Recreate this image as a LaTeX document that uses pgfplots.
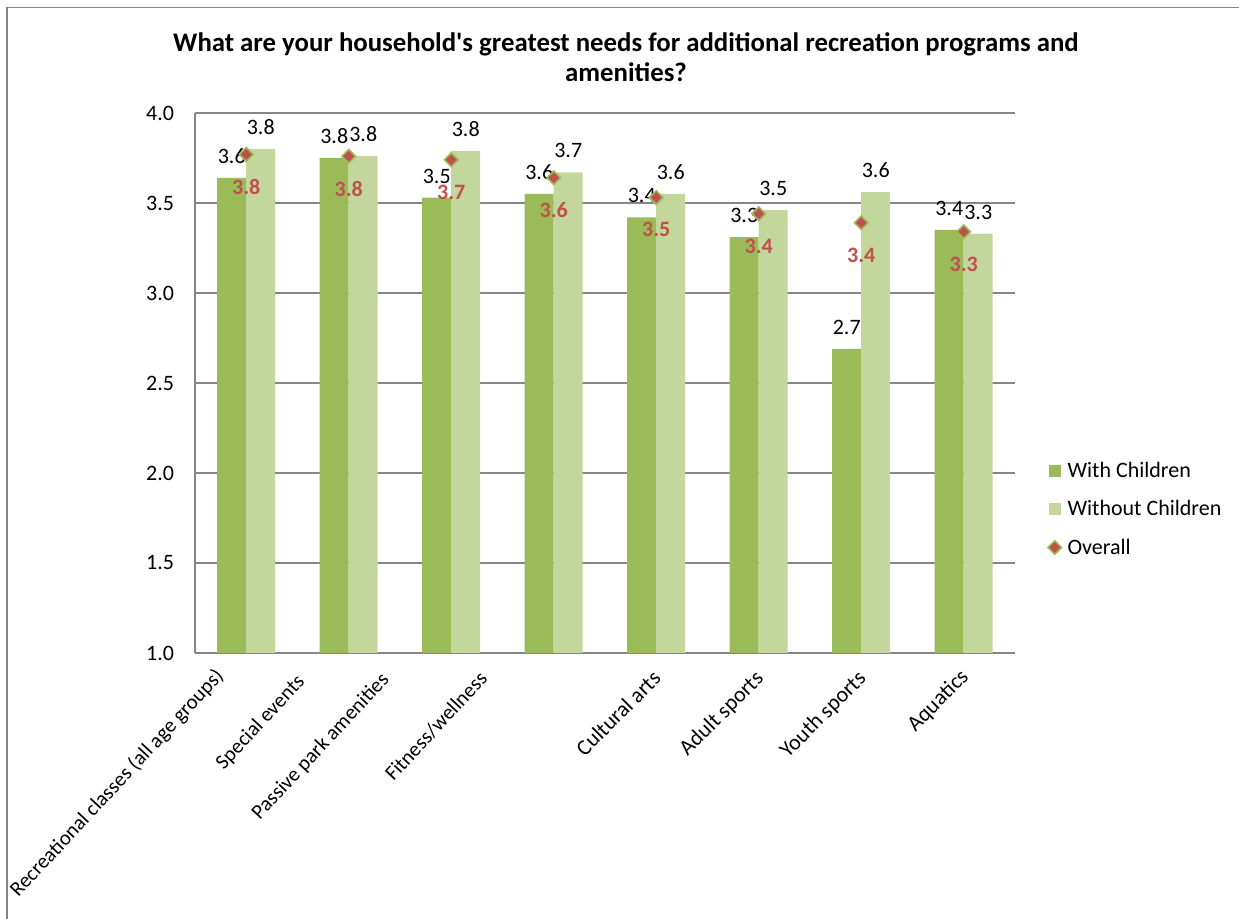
\documentclass[border=0pt]{standalone}
\usepackage{pgfplots}
\pgfplotsset{compat=1.18}
\usepackage{fontspec}
\setmainfont{Carlito}
\definecolor{wc}{HTML}{9BBB59}
\definecolor{woc}{HTML}{C3D69B}
\definecolor{ov}{HTML}{C0504D}
\definecolor{gridg}{HTML}{868686}
\newcommand{\lblfont}{\fontsize{11}{13}\selectfont}
\newcommand{\smfont}{\fontsize{10.4}{12}\selectfont}
\begin{document}
\begin{tikzpicture}[x=0.5pt,y=0.5pt]
\useasboundingbox (0,0) rectangle (1239,919);
\draw[gridg, line width=0.9pt] (7,-10) -- (7,911.5) -- (1250,911.5);
\node[font=\bfseries\fontsize{13.4}{15.2}\selectfont, align=center] at (626,862) {What are your household\textquotesingle s greatest needs for additional recreation programs and\\amenities?};
\begin{axis}[
  at={(97.5pt,133pt)}, anchor=south west,
  scale only axis, width=410pt, height=270pt,
  xmin=-0.5, xmax=7.5, ymin=1, ymax=4,
  xtick=\empty,
  ytick={1,1.5,2,2.5,3,3.5,4},
  axis x line*=bottom, axis y line*=left,
  axis line style={gridg, line width=0.9pt},
  ymajorgrids, grid style={gridg, line width=0.6pt},
  major tick length=0pt,
  yticklabel style={anchor=east, inner sep=0pt, xshift=-10.3pt, font=\lblfont},
  yticklabel={\pgfmathprintnumber[fixed, fixed zerofill, precision=1, assume math mode=true]{\tick}},
  clip=false,
  legend cell align=left,
  legend style={at={(1.0402,0.2676)}, anchor=west, draw=none, fill=none,
    inner sep=0pt, outer sep=0pt, row sep=11.6pt, column sep=3pt,
    font=\lblfont, nodes={inner sep=0pt, text height=7.5pt, text depth=0pt}},
]
\addplot[ybar, bar width=14.5pt, bar shift=-7.25pt, fill=wc, draw=none,
  nodes near coords, point meta=explicit symbolic,
  every node near coord/.append style={anchor=south, inner sep=0pt, xshift=-7.25pt, yshift=7pt, font=\lblfont, text=black},
  legend image code/.code={\fill[wc] (0pt,-3.5pt) rectangle (6.2pt,2.7pt);}]
  coordinates {(0,3.64)[3.6] (1,3.75)[3.8] (2,3.53)[3.5] (3,3.55)[3.6] (4,3.42)[3.4] (5,3.31)[3.3] (6,2.69)[2.7] (7,3.35)[3.4]};
\addlegendentry{With Children}
\addplot[ybar, bar width=14.5pt, bar shift=7.25pt, fill=woc, draw=none,
  nodes near coords, point meta=explicit symbolic,
  every node near coord/.append style={anchor=south, inner sep=0pt, xshift=7.25pt, yshift=7pt, font=\lblfont, text=black},
  legend image code/.code={\fill[woc] (0pt,-3.5pt) rectangle (6.2pt,2.7pt);}]
  coordinates {(0,3.80)[3.8] (1,3.76)[3.8] (2,3.79)[3.8] (3,3.67)[3.7] (4,3.55)[3.6] (5,3.46)[3.5] (6,3.56)[3.6] (7,3.33)[3.3]};
\addlegendentry{Without Children}
\addplot[only marks, mark=square*, mark size=2.4pt,
  mark options={rotate=45, fill=ov, draw=wc, line width=0.8pt},
  nodes near coords, point meta=explicit symbolic,
  every node near coord/.append style={anchor=north, inner sep=0pt, yshift=-12pt, font=\bfseries\lblfont, text=ov},
  legend image code/.code={\draw[mark=square*, mark size=2.4pt, mark options={rotate=45, fill=ov, draw=wc, line width=0.8pt}] plot coordinates {(3.1pt,-0.4pt)};}]
  coordinates {(0,3.77)[3.8] (1,3.76)[3.8] (2,3.74)[3.7] (3,3.64)[3.6] (4,3.53)[3.5] (5,3.44)[3.4] (6,3.39)[3.4] (7,3.34)[3.3]};
\addlegendentry{Overall}
\tikzset{xl/.style={rotate=45, anchor=north east, inner sep=0pt, font=\lblfont},
         xs/.style={rotate=47, anchor=north east, inner sep=0pt, font=\smfont}}
\node[xshift=-16.5pt, yshift=-6.5pt, xs] at (axis cs:0,1) {Recreational classes (all age groups)};
\node[xshift=-27pt, yshift=-9.75pt, xs] at (axis cs:1,1) {Special events};
\node[xshift=-36pt, yshift=-8.75pt, xs] at (axis cs:2,1) {Passive park amenities};
\node[xshift=-38pt, yshift=-8.25pt, xs] at (axis cs:3,1) {Fitness/wellness};
\node[xshift=-2.5pt, yshift=-7.75pt, xl] at (axis cs:4,1) {Cultural arts};
\node[xshift=-2.5pt, yshift=-7.75pt, xl] at (axis cs:5,1) {Adult sports};
\node[xshift=-2.5pt, yshift=-7.75pt, xl] at (axis cs:6,1) {Youth sports};
\node[xshift=-2.5pt, yshift=-7pt, xl] at (axis cs:7,1) {Aquatics};
\end{axis}
\end{tikzpicture}
\end{document}
